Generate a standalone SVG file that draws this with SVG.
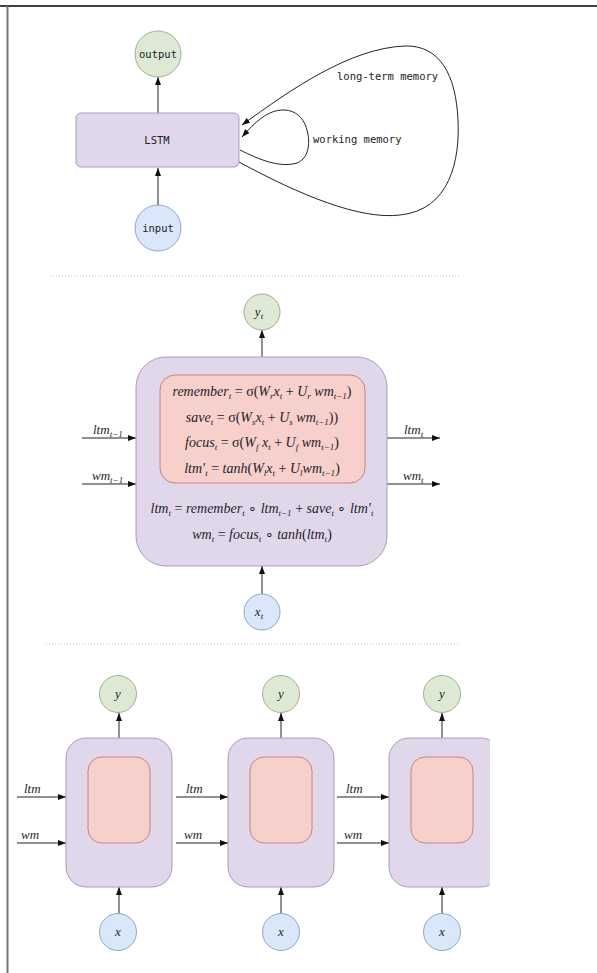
<svg xmlns="http://www.w3.org/2000/svg" width="597" height="973" viewBox="0 0 597 973">
<style>
.mono{font-family:"DejaVu Sans Mono","Liberation Mono",monospace;font-size:10.5px;fill:#222}
.eq{font-family:"Liberation Serif","Times New Roman",serif;font-style:italic;font-size:14px;fill:#1e1e2a}
.lab{font-family:"Liberation Serif","Times New Roman",serif;font-style:italic;font-size:13px;fill:#1e1e2a}
.n{font-style:normal}
.s{font-size:9px}
.cell{fill:#e1d7ea;stroke:#a99cbd;stroke-width:1}
.inner{fill:#f7cfcb;stroke:#c8827e;stroke-width:1}
.g{fill:#dde9d4;stroke:#9db290;stroke-width:1}
.b{fill:#dae7fa;stroke:#8fa6c8;stroke-width:1}
.arr{fill:none;stroke:#222;stroke-width:1;marker-end:url(#ah)}
.sep{stroke:#c8c8c8;stroke-width:1;stroke-dasharray:1 2}
</style>
<defs>
<marker id="ah" viewBox="0 0 8 6" refX="8" refY="3" markerWidth="8" markerHeight="6" markerUnits="userSpaceOnUse" orient="auto">
<path d="M0,0 L8,3 L0,6 z" fill="#111"/>
</marker>
<clipPath id="clip3"><rect x="380" y="730" width="110" height="170"/></clipPath>
</defs>
<rect width="597" height="973" fill="#fff"/>
<line x1="0" y1="6" x2="597" y2="6" stroke="#000" stroke-width="1.3"/>
<line x1="7.5" y1="6" x2="7.5" y2="973" stroke="#777" stroke-width="2"/>
<line class="sep" x1="50" y1="276" x2="460" y2="276"/>
<line class="sep" x1="46" y1="644" x2="458" y2="644"/>

<g id="connectors">
<line class="arr" x1="158" y1="113" x2="158" y2="77"/>
<line class="arr" x1="158" y1="205" x2="158" y2="168"/>
<path class="arr" d="M239 162 C300 195,360 220,400 215 C450 210,460 160,458 120 C456 75,440 45,405 46 C350 48,290 90,242 125"/>
<path class="arr" d="M240 150 C260 160,280 168,297 163 C310 158,310 140,307 130 C303 115,293 110,283 110 C268 110,255 122,242 137"/>
<line class="arr" x1="262" y1="357" x2="262" y2="330"/>
<line class="arr" x1="262" y1="594" x2="262" y2="566"/>
<line class="arr" x1="82" y1="438" x2="136" y2="438"/>
<line class="arr" x1="82" y1="484" x2="136" y2="484"/>
<line class="arr" x1="387" y1="438" x2="440" y2="438"/>
<line class="arr" x1="387" y1="484" x2="440" y2="484"/>
<line class="arr" x1="119" y1="738" x2="119" y2="713"/>
<line class="arr" x1="281" y1="738" x2="281" y2="713"/>
<line class="arr" x1="442" y1="738" x2="442" y2="713"/>
<line class="arr" x1="119" y1="914" x2="119" y2="887"/>
<line class="arr" x1="281" y1="914" x2="281" y2="887"/>
<line class="arr" x1="442" y1="914" x2="442" y2="887"/>
<line class="arr" x1="17" y1="797" x2="66" y2="797"/>
<line class="arr" x1="17" y1="843" x2="66" y2="843"/>
<line class="arr" x1="176" y1="797" x2="228" y2="797"/>
<line class="arr" x1="176" y1="843" x2="228" y2="843"/>
<line class="arr" x1="337" y1="797" x2="389" y2="797"/>
<line class="arr" x1="337" y1="843" x2="389" y2="843"/>
</g>
<g id="labels">
<text class="mono" x="337" y="80">long-term memory</text>
<text class="mono" x="313" y="143">working memory</text>
<text class="lab" x="93" y="434">ltm<tspan class="s" dy="3">t−1</tspan></text>
<text class="lab" x="92" y="480">wm<tspan class="s" dy="3">t−1</tspan></text>
<text class="lab" x="404" y="434">ltm<tspan class="s" dy="3">t</tspan></text>
<text class="lab" x="403" y="480">wm<tspan class="s" dy="3">t</tspan></text>
<text class="lab" x="24" y="793">ltm</text>
<text class="lab" x="21" y="839">wm</text>
<text class="lab" x="186" y="793">ltm</text>
<text class="lab" x="184" y="839">wm</text>
<text class="lab" x="346" y="793">ltm</text>
<text class="lab" x="344" y="839">wm</text>
</g>

<g id="output"><circle class="g" cx="158" cy="54" r="23"/><text class="mono" x="158" y="58" text-anchor="middle">output</text></g>
<g id="lstm"><rect class="cell" x="76" y="113" width="163" height="54" rx="5"/><text class="mono" x="157" y="144" text-anchor="middle">LSTM</text></g>
<g id="input"><circle class="b" cx="158" cy="228" r="23"/><text class="mono" x="158" y="232" text-anchor="middle">input</text></g>

<g id="yt"><circle class="g" cx="262" cy="312" r="18"/><text class="lab" x="259" y="316" text-anchor="middle">y<tspan class="s" dy="3">t</tspan></text></g>
<g id="cell-detail">
<rect class="cell" x="136" y="357" width="251" height="209" rx="30"/>
<rect class="inner" x="160" y="375" width="205" height="108" rx="15"/>
<text class="eq" x="262" y="396" text-anchor="middle">remember<tspan class="s" dy="3">t</tspan><tspan class="n" dy="-3"> = σ(</tspan>W<tspan class="s" dy="3">r</tspan><tspan dy="-3">x</tspan><tspan class="s" dy="3">t</tspan><tspan class="n" dy="-3"> + </tspan>U<tspan class="s" dy="3">r</tspan><tspan dy="-3"> wm</tspan><tspan class="s" dy="3">t−1</tspan><tspan class="n" dy="-3">)</tspan></text>
<text class="eq" x="262" y="422" text-anchor="middle">save<tspan class="s" dy="3">t</tspan><tspan class="n" dy="-3"> = σ(</tspan>W<tspan class="s" dy="3">s</tspan><tspan dy="-3">x</tspan><tspan class="s" dy="3">t</tspan><tspan class="n" dy="-3"> + </tspan>U<tspan class="s" dy="3">s</tspan><tspan dy="-3"> wm</tspan><tspan class="s" dy="3">t−1</tspan><tspan class="n" dy="-3">))</tspan></text>
<text class="eq" x="262" y="447" text-anchor="middle">focus<tspan class="s" dy="3">t</tspan><tspan class="n" dy="-3"> = σ(</tspan>W<tspan class="s" dy="3">f</tspan><tspan dy="-3"> x</tspan><tspan class="s" dy="3">t</tspan><tspan class="n" dy="-3"> + </tspan>U<tspan class="s" dy="3">f</tspan><tspan dy="-3"> wm</tspan><tspan class="s" dy="3">t−1</tspan><tspan class="n" dy="-3">)</tspan></text>
<text class="eq" x="262" y="473" text-anchor="middle">ltm′<tspan class="s" dy="3">t</tspan><tspan class="n" dy="-3"> = </tspan>tanh<tspan class="n">(</tspan>W<tspan class="s" dy="3">l</tspan><tspan dy="-3">x</tspan><tspan class="s" dy="3">t</tspan><tspan class="n" dy="-3"> + </tspan>U<tspan class="s" dy="3">l</tspan><tspan dy="-3">wm</tspan><tspan class="s" dy="3">t−1</tspan><tspan class="n" dy="-3">)</tspan></text>
<text class="eq" x="262" y="513" text-anchor="middle">ltm<tspan class="s" dy="3">t</tspan><tspan class="n" dy="-3"> = </tspan>remember<tspan class="s" dy="3">t</tspan><tspan class="n" dy="-3"> ∘ </tspan>ltm<tspan class="s" dy="3">t−1</tspan><tspan class="n" dy="-3"> + </tspan>save<tspan class="s" dy="3">t</tspan><tspan class="n" dy="-3"> ∘ </tspan>ltm′<tspan class="s" dy="3">t</tspan></text>
<text class="eq" x="262" y="539" text-anchor="middle">wm<tspan class="s" dy="3">t</tspan><tspan class="n" dy="-3"> = </tspan>focus<tspan class="s" dy="3">t</tspan><tspan class="n" dy="-3"> ∘ </tspan>tanh<tspan class="n">(</tspan>ltm<tspan class="s" dy="3">t</tspan><tspan class="n" dy="-3">)</tspan></text>
</g>
<g id="xt"><circle class="b" cx="262" cy="612" r="18"/><text class="lab" x="259" y="616" text-anchor="middle">x<tspan class="s" dy="3">t</tspan></text></g>

<g id="y1"><circle class="g" cx="118" cy="694" r="18.5"/><text class="lab" x="118" y="698" text-anchor="middle">y</text></g>
<g id="y2"><circle class="g" cx="281" cy="694" r="18.5"/><text class="lab" x="281" y="698" text-anchor="middle">y</text></g>
<g id="y3"><circle class="g" cx="442" cy="694" r="18.5"/><text class="lab" x="442" y="698" text-anchor="middle">y</text></g>
<g id="cell1"><rect class="cell" x="66" y="738" width="106" height="149" rx="20"/><rect class="inner" x="88" y="757" width="62" height="86" rx="14"/></g>
<g id="cell2"><rect class="cell" x="228" y="738" width="106" height="149" rx="20"/><rect class="inner" x="250" y="757" width="62" height="86" rx="14"/></g>
<g id="cell3"><rect class="cell" x="389" y="738" width="112" height="149" rx="20" clip-path="url(#clip3)"/><rect class="inner" x="411" y="757" width="62" height="86" rx="14"/></g>
<g id="x1"><circle class="b" cx="118" cy="932" r="18.5"/><text class="lab" x="118" y="936" text-anchor="middle">x</text></g>
<g id="x2"><circle class="b" cx="281" cy="932" r="18.5"/><text class="lab" x="281" y="936" text-anchor="middle">x</text></g>
<g id="x3"><circle class="b" cx="442" cy="932" r="18.5"/><text class="lab" x="442" y="936" text-anchor="middle">x</text></g>
</svg>
